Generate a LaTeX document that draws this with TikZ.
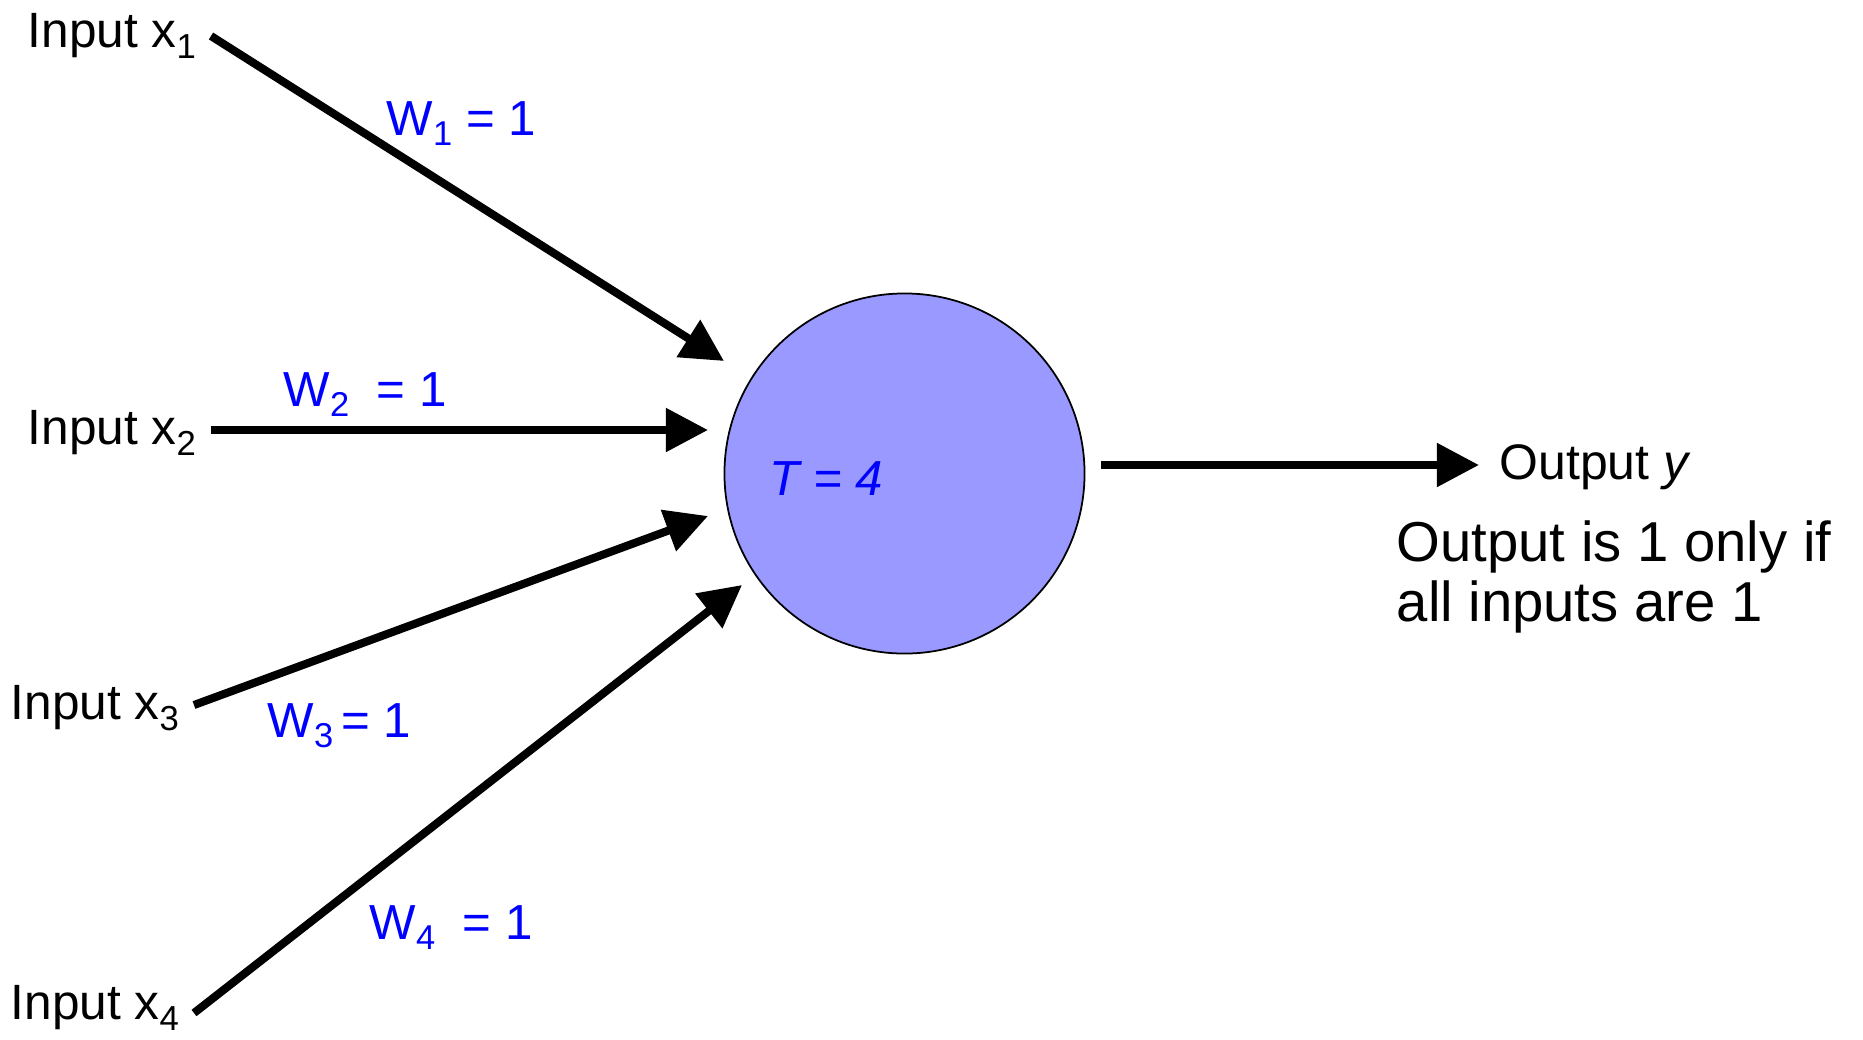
\documentclass[tikz,border=0pt]{standalone}
\usepackage{graphicx}
\usepackage{fontspec}
\setmainfont{Liberation Sans}
\usetikzlibrary{arrows.meta}
\definecolor{neuronfill}{RGB}{153,153,255}
\newcommand\lowsub[1]{\raisebox{-0.42ex}{\scalebox{0.7}{#1}}}
\begin{document}
\begin{tikzpicture}[x=0.01cm,y=-0.01cm,
  inlabel/.style={anchor=base west,inner sep=0,font=\fontsize{14.1pt}{16pt}\selectfont},
  wlabel/.style={anchor=base west,inner sep=0,text=blue,font=\fontsize{14pt}{16pt}\selectfont},
  outlabel/.style={anchor=base west,inner sep=0,font=\fontsize{16pt}{19pt}\selectfont},
  conn/.style={line width=2.3pt,-{Triangle[length=12pt,width=12pt]}},
  neuron/.style={circle,draw,line width=0.5pt,fill=neuronfill,minimum size=102.4pt,inner sep=0}]
\useasboundingbox (0,0) rectangle (1863,1039);

% neuron
\node[neuron] (n) at (904.5,473.5) {};
\node[anchor=base west,inner sep=0,text=blue,font=\fontsize{14pt}{16pt}\selectfont\itshape] (t) at (769,495) {T = 4};

% inputs
\node[inlabel] (x1) at (27,47.5) {Input x\lowsub{1}};
\node[inlabel] (x2) at (27,444) {Input x\lowsub{2}};
\node[inlabel] (x3) at (10,719) {Input x\lowsub{3}};
\node[inlabel] (x4) at (10,1019) {Input x\lowsub{4}};

% connector end points
\coordinate (s1) at (211,36);
\coordinate (e1) at (724,361);
\coordinate (s2) at (211,430);
\coordinate (e2) at (708,430);
\coordinate (s3) at (194,705);
\coordinate (e3) at (708,516);
\coordinate (s4) at (194,1013);
\coordinate (e4) at (742,585);
\coordinate (so) at (1101,465);
\coordinate (eo) at (1479,465);

\draw[conn] (s1) -- (e1);
\draw[conn] (s2) -- (e2);
\draw[conn] (s3) -- (e3);
\draw[conn] (s4) -- (e4);
\draw[conn] (so) -- (eo);

% weights
\node[wlabel] (w1) at (386,135) {W\lowsub{1} = 1};
\node[wlabel] (w2) at (283,406) {W\lowsub{2}\ \ = 1};
\node[wlabel] (w3) at (267,737) {W\lowsub{3}\,= 1};
\node[wlabel] (w4) at (369,939) {W\lowsub{4}\ \ = 1};

% output
\node[anchor=base west,inner sep=0,font=\fontsize{14.2pt}{16pt}\selectfont] (y) at (1499,479) {Output \textit{y}};
\node[outlabel] (o1) at (1396,561) {Output is 1 only if};
\node[outlabel] (o2) at (1396,621) {all inputs are 1};
\end{tikzpicture}
\end{document}
